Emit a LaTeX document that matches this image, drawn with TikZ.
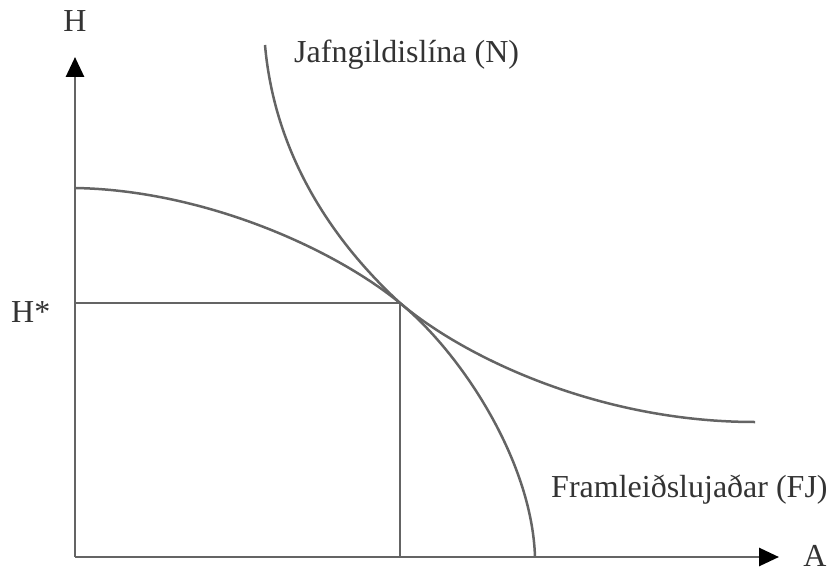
\documentclass[tikz,border=0pt]{standalone}
\usepackage{fontspec}
\setmainfont{Liberation Serif}
\usetikzlibrary{arrows.meta}
\definecolor{linegray}{RGB}{100,100,100}
\begin{document}
\begin{tikzpicture}[x=1pt,y=-1pt,
  axis/.style={draw=linegray,line width=2.8pt,-{Triangle[length=20pt,width=18pt,color=black]}},
  guide/.style={draw=linegray,line width=2.5pt},
  curve/.style={draw=linegray,line width=2.5pt},
  lbl/.style={inner sep=0pt,font=\fontsize{32}{38}\selectfont,text=black!80}]
\useasboundingbox (0,0) rectangle (829,572);
\coordinate (O) at (75,557);
\coordinate (Ytop) at (75,57);
\coordinate (Xend) at (779,557);
\coordinate (E) at (400,303);
\coordinate (Hs) at (75,303);
\coordinate (Ab) at (400,557);
\coordinate (F0) at (75,188);
\coordinate (F1) at (535,557);
\coordinate (N0) at (265,45);
\coordinate (N1) at (755,422);
% axes
\draw[axis] (O) -- (Ytop);
\draw[axis] (O) -- (Xend);
% guide lines
\draw[guide] (Hs) -- (E) -- (Ab);
% production frontier
\draw[curve] (F0) .. controls (200,190) and (330,246) .. (E)
  .. controls (460,352) and (532,460) .. (F1);
% indifference curve
\draw[curve] (N0) .. controls (275,160) and (338,246) .. (E)
  .. controls (465,358) and (600,422) .. (N1);
% labels
\node[lbl,anchor=base] (lH) at (75,32) {H};
\node[lbl,anchor=base west] (lHs) at (11,322) {H*};
\node[lbl,anchor=base] (lA) at (815,566) {A};
\node[lbl,anchor=base west] (lN) at (294,63) {Jafngildislína (N)};
\node[lbl,anchor=base west] (lFJ) at (551,497) {Framleiðslujaðar (FJ)};
\end{tikzpicture}
\end{document}
